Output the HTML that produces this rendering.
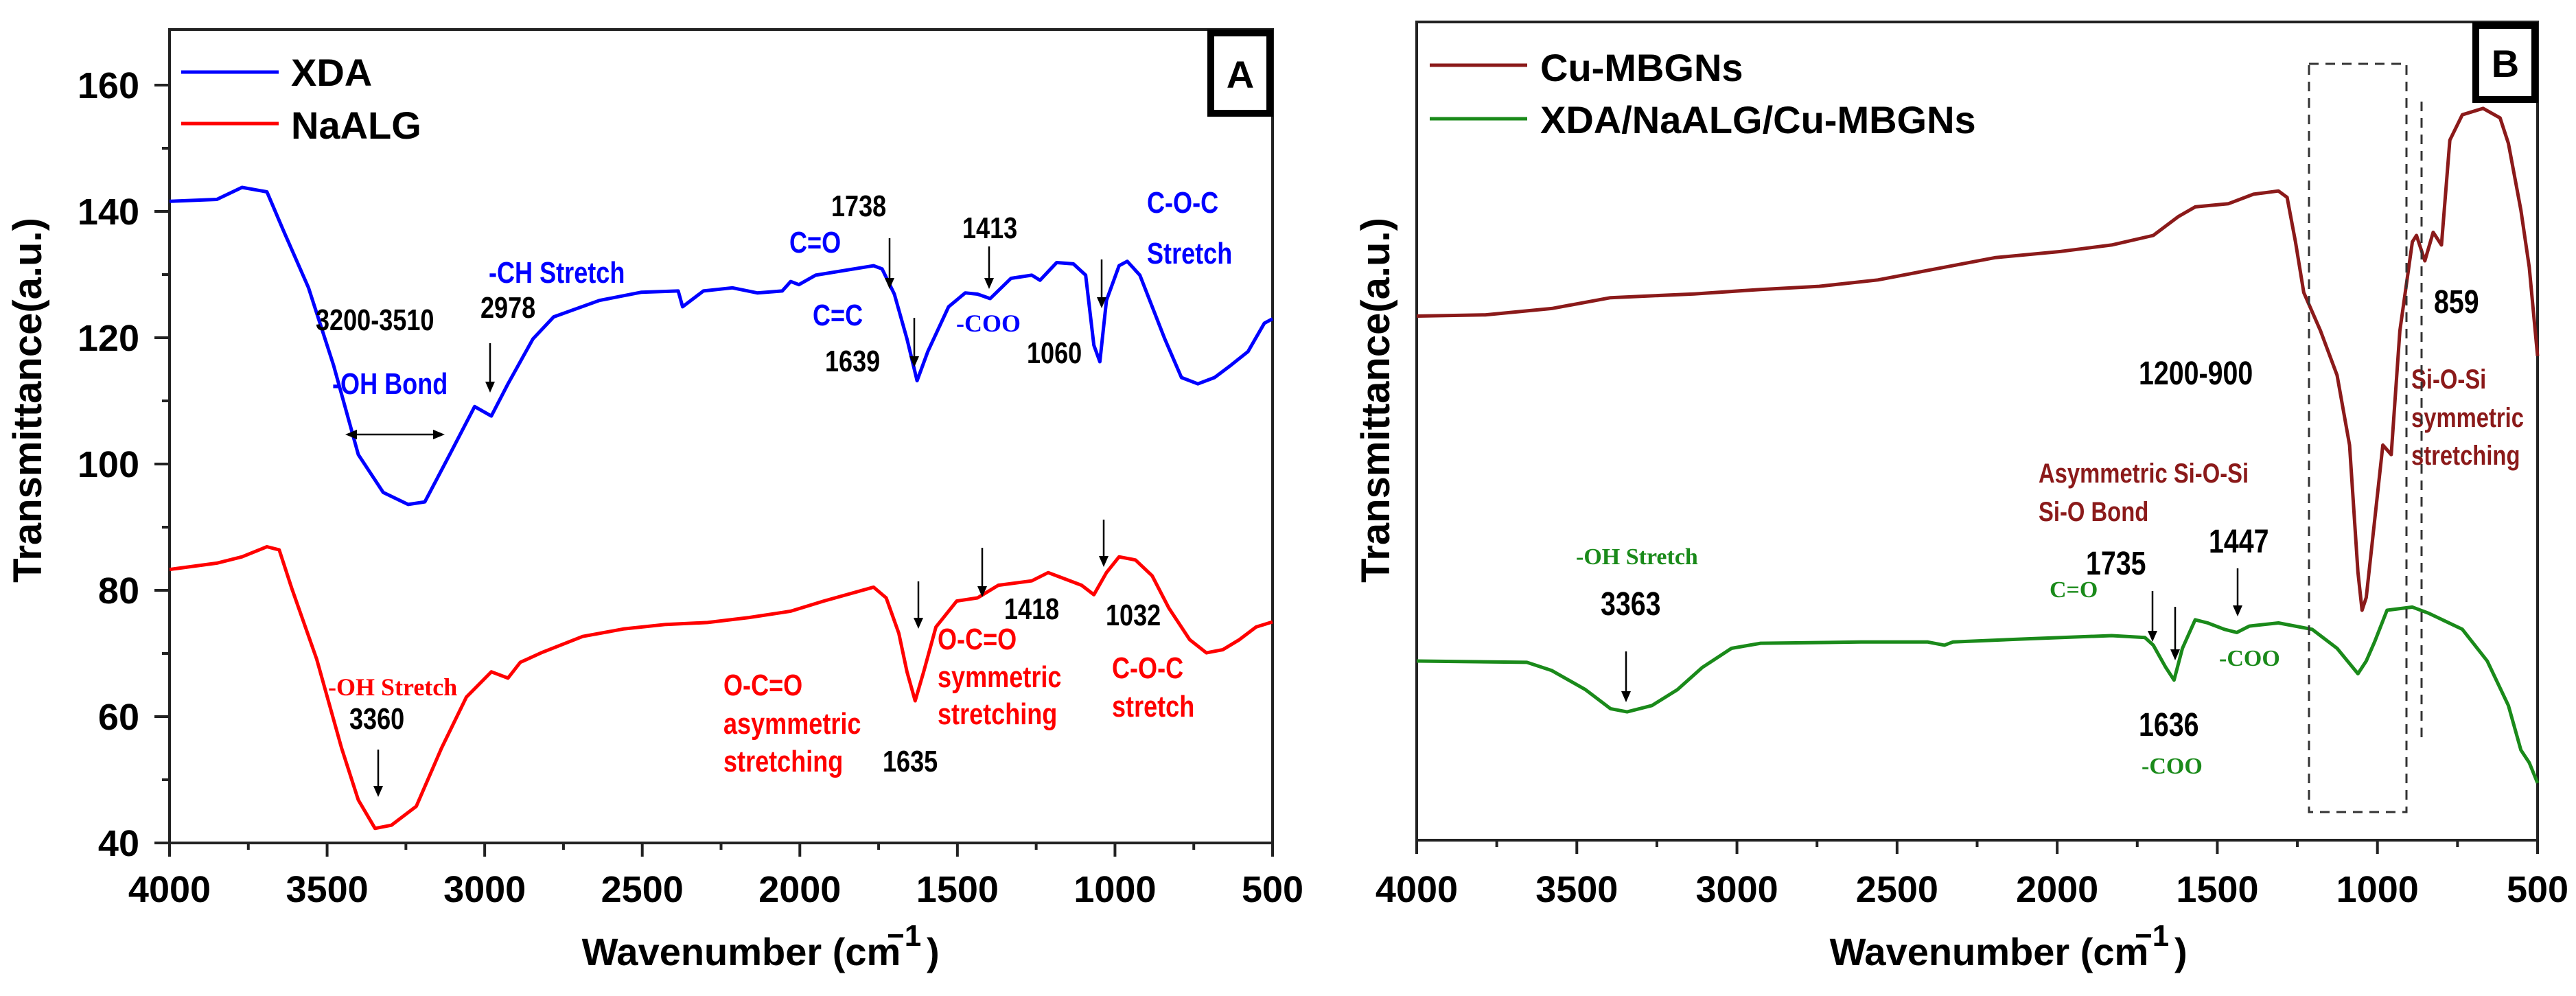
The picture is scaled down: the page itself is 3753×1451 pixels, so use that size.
<!DOCTYPE html>
<html><head><meta charset="utf-8"><style>
html,body{margin:0;padding:0;background:#fff}
svg{display:block}
text{font-family:"Liberation Sans",Arial,sans-serif;font-weight:bold}
.n{font-family:"Liberation Sans Narrow","Liberation Sans",sans-serif;font-weight:bold}
.s{font-family:"Liberation Serif",serif;font-weight:bold}
</style></head><body>
<svg id="c" width="3753" height="1451" viewBox="0 0 3753 1451" xmlns="http://www.w3.org/2000/svg">
<g id="gA"></g>
<g id="gB"></g>
</svg>
<script>
// Panel A data
const xdaWave=[4000,3850,3770,3691,3639,3559,3480,3401,3322,3243,3190,3111,3032,2979,2926,2847,2781,2636,2504,2386,2372,2306,2214,2135,2056,2029,2003,1950,1766,1739,1700,1660,1628,1594,1528,1475,1436,1396,1330,1264,1238,1185,1132,1093,1067,1048,1027,987,961,921,842,789,737,684,631,578,526,500];
const xdaVal=[141.6,141.9,143.8,143.1,137.0,127.9,115.7,101.5,95.5,93.6,94.0,101.5,109.1,107.6,112.7,119.8,123.3,125.9,127.2,127.4,124.9,127.4,127.9,127.1,127.4,128.9,128.4,129.9,131.4,130.9,126.9,119.8,113.2,117.8,124.9,127.1,126.9,126.2,129.4,129.9,129.1,131.9,131.7,129.9,118.8,116.2,125.9,131.4,132.1,129.9,119.8,113.7,112.7,113.7,115.7,117.8,122.3,123.0];
const algWave=[4000,3850,3770,3691,3652,3612,3533,3454,3401,3348,3296,3217,3137,3058,2979,2926,2887,2821,2689,2557,2425,2293,2161,2029,1924,1766,1726,1686,1660,1634,1607,1568,1502,1436,1370,1264,1212,1159,1106,1067,1027,987,935,882,829,763,710,658,605,552,500];
const algVal=[83.3,84.3,85.3,86.9,86.4,80.3,69.1,55.0,46.8,42.3,42.8,45.8,55.0,63.1,67.1,66.1,68.6,70.1,72.7,73.9,74.6,74.9,75.7,76.7,78.3,80.5,78.8,73.2,67.1,62.5,67.1,74.2,78.3,78.8,80.8,81.5,82.8,81.8,80.8,79.3,82.8,85.3,84.8,82.3,77.2,72.2,70.1,70.6,72.2,74.2,75.0];
const yTicksA=[40,60,80,100,120,140,160];
const xTicks=[4000,3500,3000,2500,2000,1500,1000,500];
// Panel B data (arbitrary units)
const cuWave=[4000,3786,3578,3395,3134,2926,2743,2560,2352,2195,1987,1830,1700,1621,1569,1465,1387,1309,1282,1256,1230,1178,1126,1087,1061,1048,1035,1009,983,957,930,891,878,852,826,800,774,735,670,617,591,552,526,500];
const cuVal=[82.5,82.7,83.7,85.4,86.0,86.7,87.2,88.2,90.2,91.7,92.7,93.7,95.2,98.2,99.7,100.2,101.7,102.2,101.2,94.2,86.2,80.2,73.2,62.2,42.2,36.2,38.2,50.2,62.2,60.7,80.2,94.2,95.2,91.2,95.7,93.7,110.2,114.2,115.2,113.7,109.7,99.2,90.2,76.2];
const compWave=[4000,3656,3578,3473,3395,3343,3265,3186,3108,3017,2926,2613,2404,2352,2326,2091,1830,1726,1700,1661,1635,1609,1569,1530,1478,1439,1400,1309,1204,1126,1061,1035,1009,970,891,839,735,657,591,552,526,500];
const compVal=[28.2,28.0,26.7,23.7,20.7,20.2,21.2,23.7,27.2,30.2,31.0,31.2,31.2,30.7,31.2,31.7,32.2,31.9,30.7,27.2,25.2,30.2,34.7,34.2,33.2,32.7,33.7,34.2,33.2,30.2,26.2,28.2,31.2,36.2,36.7,35.7,33.2,28.2,21.2,14.2,12.2,9.0];

const NS="http://www.w3.org/2000/svg";
function mk(p,tag,attrs,txt){const e=document.createElementNS(NS,tag);for(const k in attrs)e.setAttribute(k,attrs[k]);if(txt!==undefined)e.textContent=txt;p.appendChild(e);return e;}
const xA=w=>247+(4000-w)/3500*1607;
const yA=v=>1228-(v-40)*9.2;
const xB=w=>2064+(4000-w)/3500*1633;
const yB=v=>1224-9.254*v;

function axes(g,x0,x1,y0,y1,xs){
  const f=mk(g,'rect',{x:x0,y:y0,width:x1-x0,height:y1-y0,fill:'none',stroke:'#222','stroke-width':4});
  
  for(let w=4000;w>=500;w-=250){const X=xs(w);const maj=w%500===0;
    const t=mk(g,'line',{x1:X,x2:X,y1:y1,y2:y1+(maj?20:10),stroke:'#222','stroke-width':4});
    }
  xTicks.forEach(w=>{const t=mk(g,'text',{x:xs(w),y:1314,'font-size':54,'text-anchor':'middle'},String(w));
    });
}
function line(g,ws,vs,xs,ys,col,name){
  const d=ws.map((w,i)=>(i?'L':'M')+xs(w).toFixed(1)+','+ys(vs[i]).toFixed(1)).join('');
  const p=mk(g,'path',{d:d,fill:'none',stroke:col,'stroke-width':5,'stroke-linejoin':'round'});
  
}
function txt(g,x,y,s,size,col,cls,name){
  let t;
  if(cls==='n'){t=mk(g,'text',{x:0,y:0,'font-size':size,fill:col,class:cls,transform:`translate(${x},${y}) scale(0.82,1)`},s);}
  else{t=mk(g,'text',{x:x,y:y,'font-size':size,fill:col,class:cls||''},s);}
  return t;}
function arrow(g,x,y0,y1){const l=mk(g,'line',{x1:x,x2:x,y1:y0,y2:y1-12,stroke:'#000','stroke-width':2.5});
  
  const h=mk(g,'path',{d:`M${x-7},${y1-16}L${x+7},${y1-16}L${x},${y1}Z`,fill:'#000'});
  }

// Panel A
const gA=document.getElementById('gA');
axes(gA,247,1854,43,1228,xA);
for(let v=40;v<=160;v+=10){const Y=yA(v);const maj=v%20===0;
  const t=mk(gA,'line',{x1:247,x2:247-(maj?22:11),y1:Y,y2:Y,stroke:'#222','stroke-width':4});
  }
yTicksA.forEach(v=>{const t=mk(gA,'text',{x:203,y:yA(v)+19,'font-size':54,'text-anchor':'end'},String(v));
  });
line(gA,xdaWave,xdaVal,xA,yA,'#0000ff','xda-line');
line(gA,algWave,algVal,xA,yA,'#ff0000','naalg-line');
let e=mk(gA,'rect',{x:1764,y:48,width:86,height:117,fill:'#fff',stroke:'#000','stroke-width':10});

txt(gA,1807,128,'A',56,'#000','','panel-label').setAttribute('text-anchor','middle');
e=mk(gA,'line',{x1:264,x2:406,y1:105,y2:105,stroke:'#0000ff','stroke-width':5});
e=mk(gA,'line',{x1:264,x2:406,y1:180,y2:180,stroke:'#ff0000','stroke-width':5});
txt(gA,424,125,'XDA',56,'#000','','legend-entry-xda');
txt(gA,424,202,'NaALG',56,'#000','','legend-entry-naalg');
e=txt(gA,0,0,'Transmittance(a.u.)',58,'#000','','y-axis-title');e.setAttribute('transform','translate(60,583) rotate(-90)');e.setAttribute('text-anchor','middle');
e=txt(gA,1080,1406,'Wavenumber (cm',56,'#000','','x-axis-title');e.setAttribute('text-anchor','middle');
txt(gA,1292,1378,'−1',44,'#000','','x-axis-title-sup');txt(gA,1350,1406,')',56,'#000','','x-axis-title-paren');
[[460,481,'3200-3510','#000','n'],[700,463,'2978','#000','n'],[712,412,'-CH Stretch','#0000ff','n'],[484,574,'-OH Bond','#0000ff','n'],
 [1150,368,'C=O','#0000ff','n'],[1211,315,'1738','#000','n'],[1184,474,'C=C','#0000ff','n'],[1202,541,'1639','#000','n'],
 [1402,347,'1413','#000','n'],[1393,483,'-COO','#0000ff','s'],[1496,529,'1060','#000','n'],[1671,310,'C-O-C','#0000ff','n'],[1671,384,'Stretch','#0000ff','n'],
 [478,1013,'-OH Stretch','#ff0000','s'],[509,1062,'3360','#000','n'],[1054,1013,'O-C=O','#ff0000','n'],[1054,1069,'asymmetric','#ff0000','n'],[1054,1124,'stretching','#ff0000','n'],
 [1286,1124,'1635','#000','n'],[1366,946,'O-C=O','#ff0000','n'],[1366,1001,'symmetric','#ff0000','n'],[1366,1055,'stretching','#ff0000','n'],
 [1463,902,'1418','#000','n'],[1611,911,'1032','#000','n'],[1620,988,'C-O-C','#ff0000','n'],[1620,1044,'stretch','#ff0000','n']
].forEach(a=>txt(gA,a[0],a[1],a[2],a[4]==='s'?36:44,a[3],a[4]));
[[714,500,572],[1296,347,421],[1332,463,535],[1441,359,421],[1605,378,449],[551,1092,1161],[1338,847,916],[1431,798,870],[1608,757,826]].forEach(a=>arrow(gA,a[0],a[1],a[2]));
e=mk(gA,'line',{x1:515,x2:636,y1:633,y2:633,stroke:'#000','stroke-width':2.5});
e=mk(gA,'path',{d:'M503,633L520,626L520,640Z M648,633L631,626L631,640Z',fill:'#000'});

// Panel B
const gB=document.getElementById('gB');
axes(gB,2064,3697,32,1224,xB);
line(gB,cuWave,cuVal,xB,yB,'#8b1a1a','cu-mbgns-line');
line(gB,compWave,compVal,xB,yB,'#1a8a1a','composite-line');
e=mk(gB,'rect',{x:3607,y:37,width:86,height:108,fill:'#fff',stroke:'#000','stroke-width':10});

txt(gB,3650,112,'B',56,'#000','','panel-label').setAttribute('text-anchor','middle');
e=mk(gB,'line',{x1:2083,x2:2225,y1:95,y2:95,stroke:'#8b1a1a','stroke-width':5});
e=mk(gB,'line',{x1:2083,x2:2225,y1:173,y2:173,stroke:'#1a8a1a','stroke-width':5});
txt(gB,2244,118,'Cu-MBGNs',56,'#000','','legend-entry-cu');
txt(gB,2244,194,'XDA/NaALG/Cu-MBGNs',56,'#000','','legend-entry-composite');
e=txt(gB,0,0,'Transmittance(a.u.)',58,'#000','','y-axis-title');e.setAttribute('transform','translate(2024,583) rotate(-90)');e.setAttribute('text-anchor','middle');
e=txt(gB,2898,1406,'Wavenumber (cm',56,'#000','','x-axis-title');e.setAttribute('text-anchor','middle');
txt(gB,3110,1378,'−1',44,'#000','','x-axis-title-sup');txt(gB,3168,1406,')',56,'#000','','x-axis-title-paren');
[[3116,560,'1200-900','#000','n',48],[3546,456,'859','#000','n',48],[3513,566,'Si-O-Si','#8b1a1a','n',40],[3513,622,'symmetric','#8b1a1a','n',40],[3513,677,'stretching','#8b1a1a','n',40],
 [2970,703,'Asymmetric Si-O-Si','#8b1a1a','n',40],[2970,759,'Si-O Bond','#8b1a1a','n',40],[2296,822,'-OH Stretch','#1a8a1a','s',34],[2332,896,'3363','#000','n',48],
 [2986,870,'C=O','#1a8a1a','s',34],[3039,837,'1735','#000','n',48],[3218,805,'1447','#000','n',48],[3233,970,'-COO','#1a8a1a','s',34],
 [3116,1072,'1636','#000','n',48],[3120,1127,'-COO','#1a8a1a','s',34]
].forEach(a=>txt(gB,a[0],a[1],a[2],a[5],a[3],a[4]));
[[2369,949,1023],[3136,861,935],[3169,884,962],[3260,828,898]].forEach(a=>arrow(gB,a[0],a[1],a[2]));
e=mk(gB,'rect',{x:3364,y:93,width:142,height:1090,fill:'none',stroke:'#333','stroke-width':3,'stroke-dasharray':'14,10'});

e=mk(gB,'line',{x1:3528,x2:3528,y1:148,y2:1083,stroke:'#333','stroke-width':3,'stroke-dasharray':'14,10'});

</script>
</body></html>
